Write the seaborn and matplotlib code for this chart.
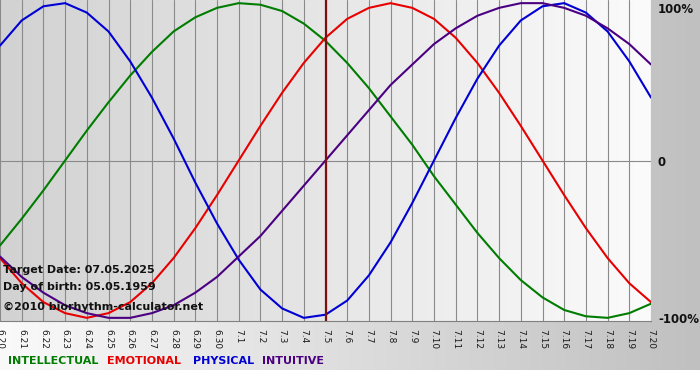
import numpy as np
import pandas as pd
import seaborn as sns
import matplotlib.pyplot as plt
from matplotlib.colors import LinearSegmentedColormap

# days shown on the x axis (month.day)
day_labels = ["6.20", "6.21", "6.22", "6.23", "6.24", "6.25", "6.26", "6.27", "6.28", "6.29",
              "6.30", "7.1", "7.2", "7.3", "7.4", "7.5", "7.6", "7.7", "7.8", "7.9", "7.10",
              "7.11", "7.12", "7.13", "7.14", "7.15", "7.16", "7.17", "7.18", "7.19", "7.20"]

# daily values of each cycle, -1 .. 1
intellectual = [-0.54, -0.37, -0.19, 0.00, 0.19, 0.37, 0.54, 0.69, 0.82, 0.91, 0.97,
                1.00, 0.99, 0.95, 0.87, 0.76, 0.62, 0.46, 0.28, 0.10, -0.10,
                -0.28, -0.46, -0.62, -0.76, -0.87, -0.95, -0.99, -1.00, -0.97, -0.91]
emotional = [-0.62, -0.78, -0.90, -0.97, -1.00, -0.97, -0.90, -0.78, -0.62, -0.43, -0.22,
             0.00, 0.22, 0.43, 0.62, 0.78, 0.90, 0.97, 1.00, 0.97, 0.90,
             0.78, 0.62, 0.43, 0.22, 0.00, -0.22, -0.43, -0.62, -0.78, -0.90]
physical = [0.73, 0.89, 0.98, 1.00, 0.94, 0.82, 0.63, 0.40, 0.14, -0.14, -0.40,
            -0.63, -0.82, -0.94, -1.00, -0.98, -0.89, -0.73, -0.52, -0.27, 0.00,
            0.27, 0.52, 0.73, 0.89, 0.98, 1.00, 0.94, 0.82, 0.63, 0.40]
intuitive = [-0.61, -0.74, -0.84, -0.92, -0.97, -1.00, -1.00, -0.97, -0.92, -0.84, -0.74,
             -0.61, -0.48, -0.32, -0.16, 0.00, 0.16, 0.32, 0.48, 0.61, 0.74,
             0.84, 0.92, 0.97, 1.00, 1.00, 0.97, 0.92, 0.84, 0.74, 0.61]

cycle_names = ["INTELLECTUAL", "EMOTIONAL", "PHYSICAL", "INTUITIVE"]
cycle_colors = ["#007d00", "#e80000", "#0000d4", "#4b0082"]
target_day = "7.5"
target_date = "07.05.2025"
birth_date = "05.05.1959"

days = np.arange(len(day_labels))
df = pd.DataFrame({
    "day": np.tile(days, 4),
    "cycle": np.repeat(cycle_names, len(days)),
    "value": intellectual + emotional + physical + intuitive,
})

sns.set_style("white")
plt.rcParams["font.family"] = ["DejaVu Sans"]

fig = plt.figure(figsize=(7, 3.8), dpi=100, facecolor="white")

# figure background gradient (white -> gray)
bg = fig.add_axes([0, 10 / 380, 1, 1 - 10 / 380], zorder=-1)
bg.imshow(np.linspace(0, 1, 256).reshape(1, -1), aspect="auto", extent=[0, 1, 0, 1],
          cmap=LinearSegmentedColormap.from_list("fig_bg", ["#fafafa", "#c0c0c0"]))
bg.axis("off")

ax = fig.add_axes([0, 1 - 321 / 380, 651 / 700, 321 / 380])
ax.imshow(np.linspace(0, 1, 256).reshape(1, -1), aspect="auto",
          extent=[0, len(days) - 1, -1.02, 1.02], zorder=0,
          cmap=LinearSegmentedColormap.from_list("ax_bg", ["#d2d2d2", "#fbfbfb"]))

# day grid and zero line
for d in days:
    ax.axvline(d, color="#8a8a8a", lw=0.8, zorder=1)
ax.axhline(0, color="#8a8a8a", lw=0.8, zorder=1)

sns.lineplot(data=df, x="day", y="value", hue="cycle", hue_order=cycle_names,
             palette=cycle_colors, legend=False, lw=1.5, ax=ax, zorder=3)

ax.axvline(day_labels.index(target_day), color="#7a1010", lw=1.6, zorder=4)

ax.set_xlim(0, len(days) - 1)
ax.set_ylim(-1.02, 1.02)
ax.set_xticks(days)
ax.set_xticklabels(day_labels, rotation=-90, fontsize=6.5, color="#1a1a1a")
ax.tick_params(axis="x", length=4, width=0.8, color="#808080", pad=1.5)
ax.set_xlabel("")
ax.set_ylabel("")

ax.yaxis.tick_right()
ax.set_yticks([-1, 0, 1])
ax.set_yticklabels(["-100%", "0", "100%"], fontsize=8.5, fontweight="bold", color="#111111")
ax.tick_params(axis="y", length=0, pad=5)
ax.get_yticklabels()[2].set_va("top")

for side in ["top", "right", "left"]:
    ax.spines[side].set_visible(False)
ax.spines["bottom"].set_color("#808080")
ax.spines["bottom"].set_linewidth(0.8)

# info text inside the chart
info = [f"Target Date: {target_date}", f"Day of birth: {birth_date}",
        "\u00a92010 biorhythm-calculator.net"]
for txt, yy in zip(info, [0.159, 0.106, 0.044]):
    ax.text(0.004, yy, txt, transform=ax.transAxes, fontsize=8, fontweight="bold",
            color="#111111", va="center", ha="left", zorder=5)

# coloured legend words along the bottom
for name, color, xx in zip(cycle_names, cycle_colors, [8, 107, 193, 262]):
    fig.text(xx / 700, 1 - 361 / 380, name, color=color, fontsize=8,
             fontweight="bold", va="center", ha="left")

fig.savefig("out.png", dpi=100)
